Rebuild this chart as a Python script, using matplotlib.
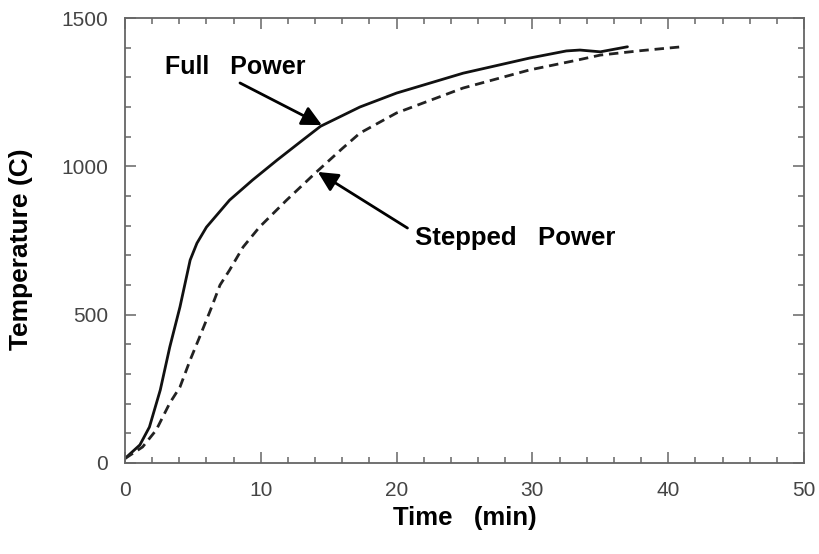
import matplotlib
matplotlib.use('Agg')
import matplotlib.pyplot as plt
from matplotlib.ticker import MultipleLocator

# values
full_t = [0, 1.1, 1.8, 2.6, 3.3, 4.05, 4.8, 5.3, 6.0, 7.7, 9.4, 11.2, 13.1,
          14.4, 17.3, 20.0, 24.9, 29.8, 32.5, 33.5, 35, 37]
full_T = [15, 61, 121, 246, 391, 526, 684, 741, 795, 886, 954, 1021, 1089,
          1135, 1200, 1247, 1314, 1365, 1389, 1392, 1386, 1403]

step_t = [0, 1.3, 2.3, 3.3, 4.05, 4.8, 5.5, 6.3, 7.0, 7.7, 8.7, 9.9, 11.9,
          14.1, 16.0, 17.3, 20.0, 24.9, 29.8, 33.3, 35, 38, 41]
step_T = [15, 54, 111, 202, 256, 347, 425, 516, 600, 650, 728, 795, 886,
          981, 1060, 1112, 1180, 1264, 1325, 1358, 1375, 1390, 1403]

plt.rcParams['font.family'] = ['Liberation Sans', 'DejaVu Sans']

fig = plt.figure(figsize=(8.2, 5.54), dpi=100)
ax = fig.add_axes([0.1524, 0.1643, 0.8281, 0.8032])

ax.plot(full_t, full_T, color='#111111', lw=2.0, solid_capstyle='round')
ax.plot(step_t, step_T, color='#222222', lw=2.0, ls=(0, (3.4, 2.1)))

ax.set_xlim(0, 50)
ax.set_ylim(0, 1500)
ax.xaxis.set_major_locator(MultipleLocator(10))
ax.xaxis.set_minor_locator(MultipleLocator(2))
ax.yaxis.set_major_locator(MultipleLocator(500))
ax.yaxis.set_minor_locator(MultipleLocator(100))

for s in ax.spines.values():
    s.set_color('#666666'); s.set_linewidth(1.3)
ax.tick_params(which='both', direction='in', top=True, right=True,
               color='#666666', width=1.1)
ax.tick_params(which='major', length=8, labelsize=15, labelcolor='#444444')
ax.tick_params(which='minor', length=4)
ax.tick_params(axis='x', which='major', pad=13)
ax.tick_params(axis='y', which='major', pad=12)

ax.set_xlabel('Time   (min)', fontsize=18.5, fontweight='bold', labelpad=4)
ax.set_ylabel('Temperature (C)', fontsize=19, fontweight='bold')
ax.yaxis.set_label_coords(-0.136, 0.48)

arrow = dict(arrowstyle='-|>', lw=2, color='black', mutation_scale=30,
             shrinkA=0, shrinkB=0)
ax.annotate('', xy=(14.5, 1139), xytext=(8.47, 1281), arrowprops=arrow)
ax.annotate('', xy=(14.2, 981), xytext=(20.8, 792), arrowprops=arrow)
ax.text(2.95, 1335, 'Full   Power', fontsize=18, fontweight='bold',
        va='center', ha='left')
ax.text(21.35, 758, 'Stepped   Power', fontsize=18.5, fontweight='bold',
        va='center', ha='left')

fig.savefig('out.png', dpi=100)
